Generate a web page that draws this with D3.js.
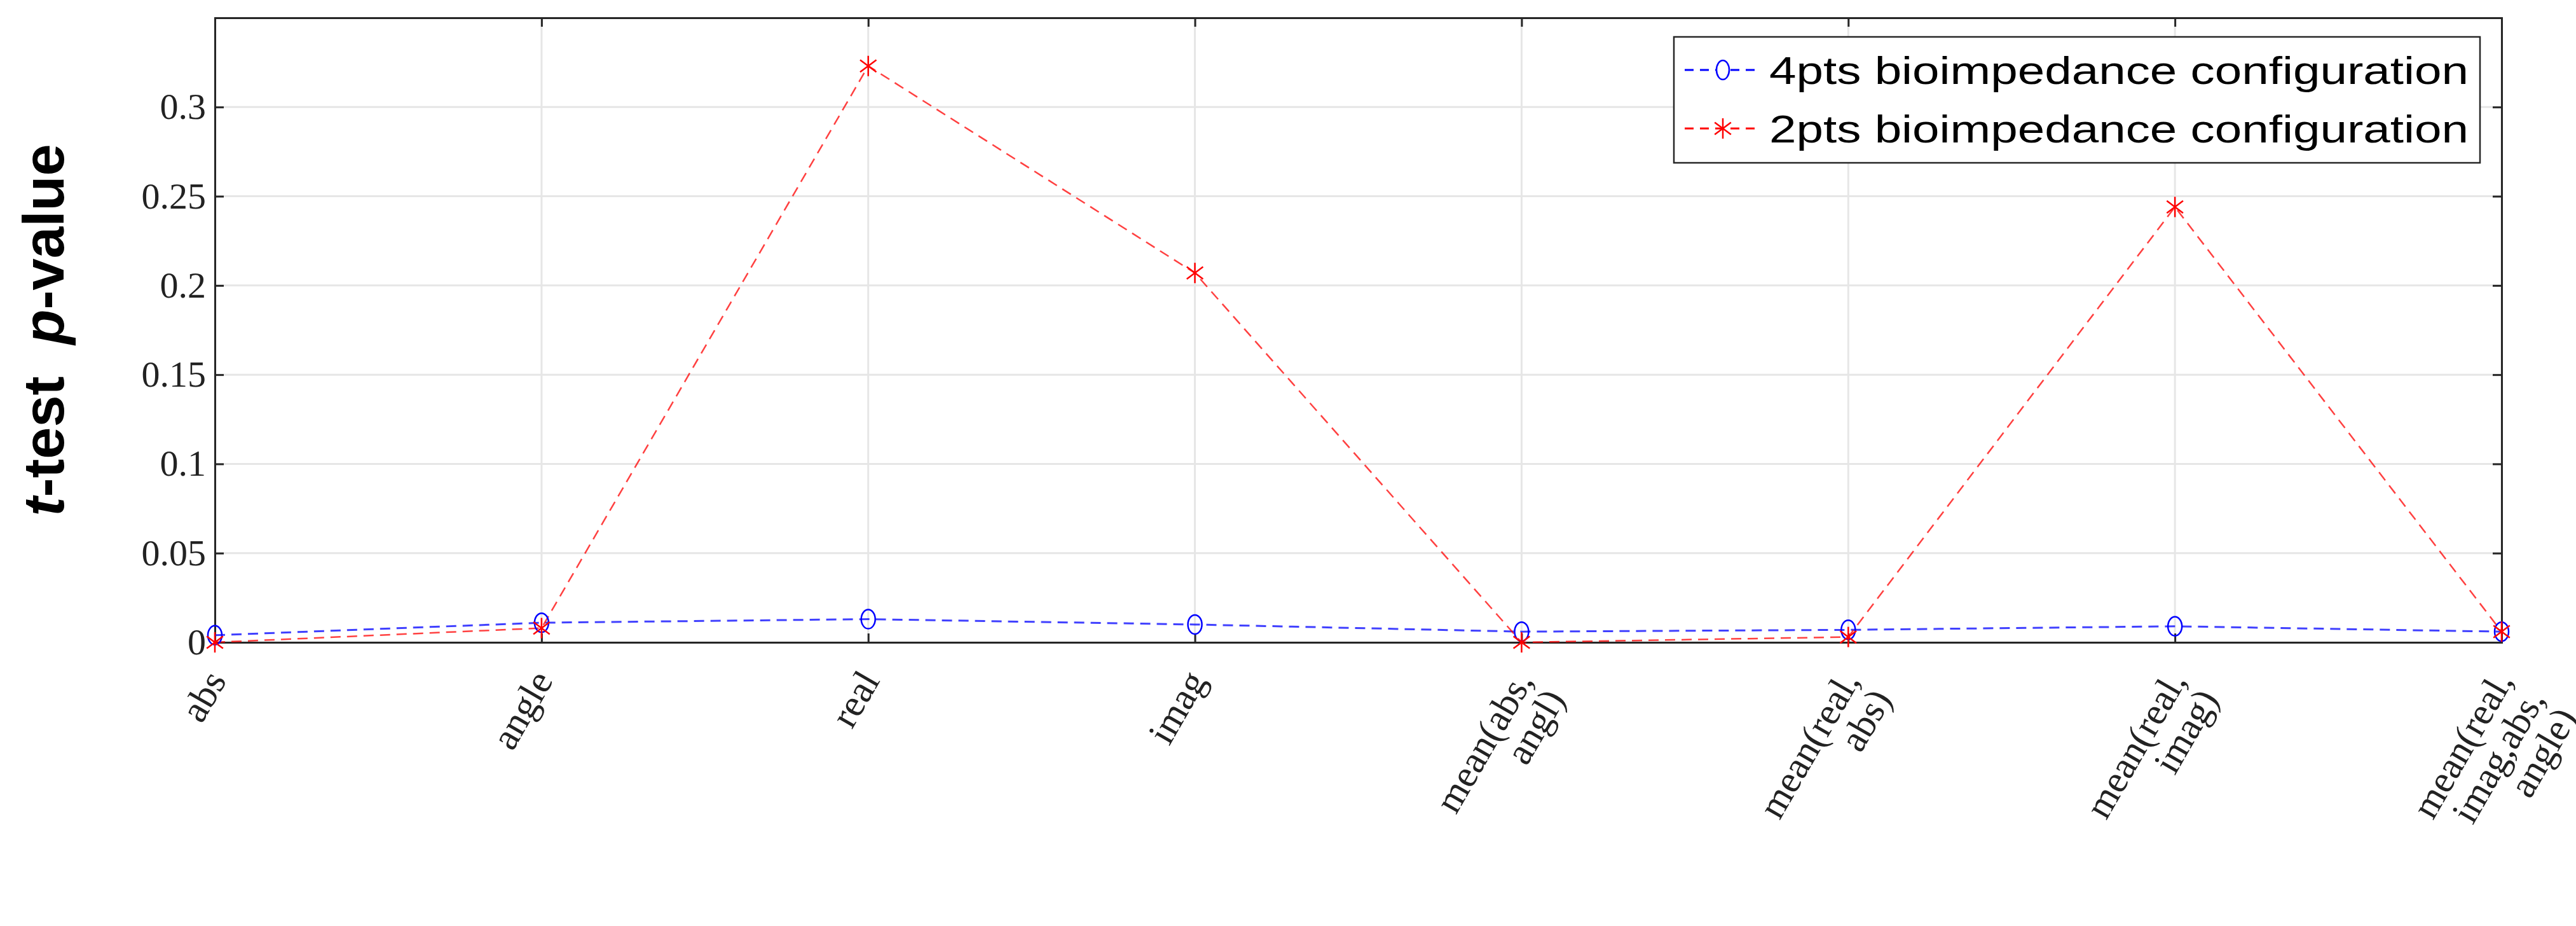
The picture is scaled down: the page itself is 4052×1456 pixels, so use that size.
<!DOCTYPE html><html><head><meta charset="utf-8"><script src="https://cdn.jsdelivr.net/npm/d3@7"></script>
<style>body{margin:0;background:#fff}</style></head><body><svg id="c" width="4052" height="1456"></svg>
<script>
const categories=[["abs"],["angle"],["real"],["imag"],["mean(abs,","angl)"],["mean(real,","abs)"],["mean(real,","imag)"],["mean(real,","imag,abs,","angle)"]];
const fourPts=[0.004,0.011,0.013,0.010,0.006,0.007,0.009,0.006];
const twoPts=[0.0,0.008,0.323,0.207,0.0,0.003,0.244,0.006];
const yTicks=[0,0.05,0.1,0.15,0.2,0.25,0.3];
const seriesNames=["4pts bioimpedance configuration","2pts bioimpedance configuration"];
const L=338,R=3935,T=28,B=1010;
const svg=d3.select("#c");
const x=d3.scaleLinear().domain([0,categories.length-1]).range([L,R]);
const y=d3.scaleLinear().domain([0,0.35]).range([B,T]);
svg.append("g").selectAll("line").data(yTicks.concat([0.35])).join("line").attr("x1",L).attr("x2",R).attr("y1",d=>y(d)).attr("y2",d=>y(d)).attr("stroke","#e6e6e6").attr("stroke-width",3);
svg.append("g").selectAll("line").data(d3.range(categories.length)).join("line").attr("x1",d=>x(d)).attr("x2",d=>x(d)).attr("y1",T).attr("y2",B).attr("stroke","#e6e6e6").attr("stroke-width",3);
const ya=svg.append("g").attr("transform",`translate(${L},0)`).call(d3.axisLeft(y).tickValues(yTicks).tickSize(-14).tickFormat(d=>String(+d.toFixed(2))));
ya.selectAll("text").attr("font-family","Liberation Serif").attr("font-size",58).attr("x",-14).attr("fill","#222");
const ya2=svg.append("g").attr("transform",`translate(${R},0)`).call(d3.axisRight(y).tickValues(yTicks).tickSize(-14).tickFormat(""));
const xa=svg.append("g").attr("transform",`translate(0,${B})`).call(d3.axisBottom(x).ticks(8).tickSize(-14).tickFormat(""));
const xt=svg.append("g").attr("transform",`translate(0,${T})`).call(d3.axisTop(x).ticks(8).tickSize(-14).tickFormat(""));
[ya,ya2,xa,xt].forEach(g=>{g.select(".domain").attr("stroke","#262626").attr("stroke-width",3);g.selectAll(".tick line").attr("stroke","#262626").attr("stroke-width",3);});
categories.forEach((lines,i)=>{
  const t=svg.append("text").attr("transform",`translate(${x(i)+2},${B+50}) rotate(-60)`).attr("text-anchor","end").attr("font-family","Liberation Serif").attr("font-size",60).attr("fill","#222");
  lines.forEach((s,k)=>t.append("tspan").attr("x",0).attr("dy",k?58:20).text(s));
});
svg.append("text").attr("transform",`translate(100,${(T+B)/2}) rotate(-90)`).attr("text-anchor","middle").attr("font-family","Liberation Sans").attr("font-weight","bold").attr("font-size",90).attr("xml:space","preserve")
 .call(t=>{t.append("tspan").attr("font-style","italic").text("t");t.append("tspan").text("-test\u00a0\u00a0");t.append("tspan").attr("font-style","italic").text("p");t.append("tspan").text("-value");});
const line=d3.line().x((d,i)=>x(i)).y(d=>y(d));
svg.append("path").datum(fourPts).attr("d",line).attr("fill","none").attr("stroke","#0000ff").attr("stroke-width",3).attr("stroke-dasharray","16,10").attr("opacity",0.75);
svg.append("path").datum(twoPts).attr("d",line).attr("fill","none").attr("stroke","#ff0000").attr("stroke-width",2.5).attr("stroke-dasharray","16,10").attr("opacity",0.75);
svg.append("g").selectAll("ellipse").data(fourPts).join("ellipse").attr("cx",(d,i)=>x(i)).attr("cy",d=>y(d)).attr("rx",11).attr("ry",15).attr("fill","none").attr("stroke","#0000ff").attr("stroke-width",2.5);
function star(g,cx,cy,r){[[0,-r,0,r],[-r*0.8,-r*0.6,r*0.8,r*0.6],[-r*0.8,r*0.6,r*0.8,-r*0.6]].forEach(a=>g.append("line").attr("x1",cx+a[0]).attr("y1",cy+a[1]).attr("x2",cx+a[2]).attr("y2",cy+a[3]).attr("stroke","#ff0000").attr("stroke-width",2.5));}
const sg=svg.append("g");twoPts.forEach((d,i)=>star(sg,x(i),y(d),16));
const lg=svg.append("g");
lg.append("rect").attr("x",2633).attr("y",58).attr("width",1268).attr("height",198).attr("fill","#fff").attr("stroke","#262626").attr("stroke-width",2.5);
[[110,"#0000ff"],[202,"#ff0000"]].forEach(([yy,c],k)=>{
  lg.append("line").attr("x1",2650).attr("x2",2762).attr("y1",yy).attr("y2",yy).attr("stroke",c).attr("stroke-width",3).attr("stroke-dasharray","14,10");
  if(k==0)lg.append("ellipse").attr("cx",2710).attr("cy",yy).attr("rx",10).attr("ry",15).attr("fill","#fff").attr("stroke",c).attr("stroke-width",2.5);
  else star(lg,2710,yy,16);
  lg.append("text").attr("x",2783).attr("y",yy+22).attr("font-family","Liberation Sans").attr("font-size",62).attr("textLength",1100).attr("lengthAdjust","spacingAndGlyphs").attr("fill","#000").text(seriesNames[k]);
});
</script></body></html>
